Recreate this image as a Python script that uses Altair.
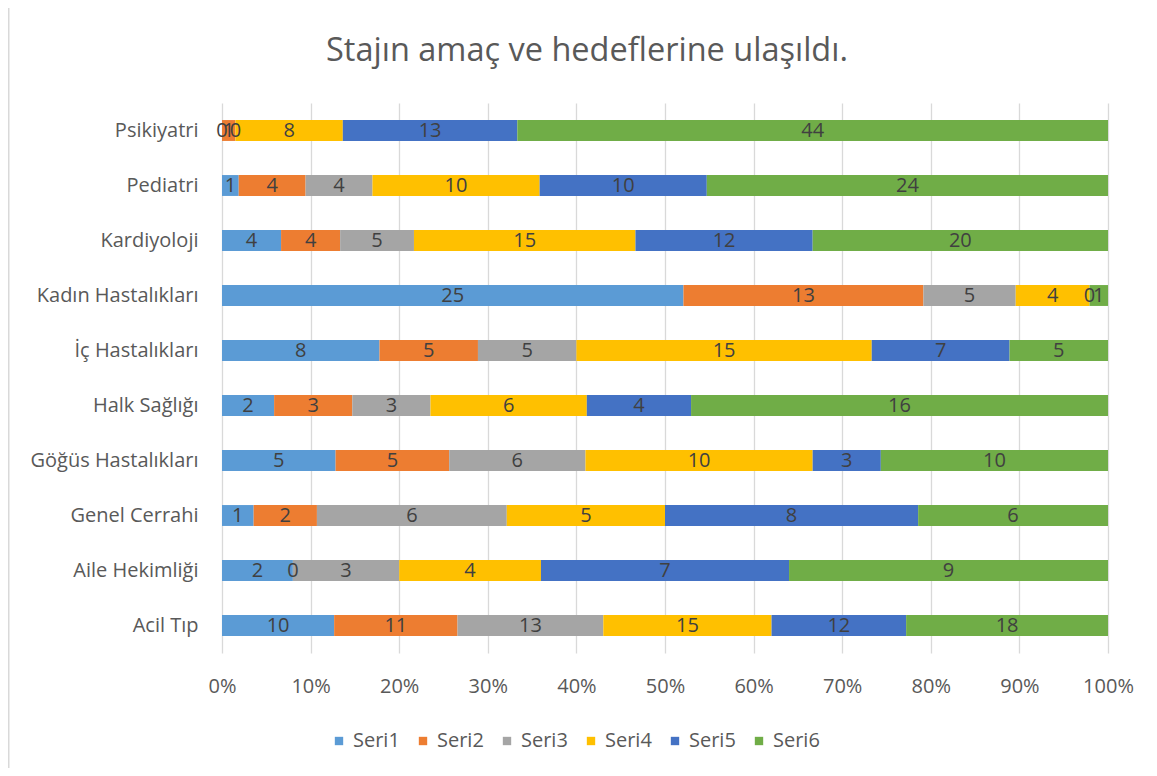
import altair as alt
import pandas as pd

categories = ["Psikiyatri", "Pediatri", "Kardiyoloji", "Kadın Hastalıkları", "İç Hastalıkları",
              "Halk Sağlığı", "Göğüs Hastalıkları", "Genel Cerrahi", "Aile Hekimliği", "Acil Tıp"]
series_names = ["Seri1", "Seri2", "Seri3", "Seri4", "Seri5", "Seri6"]
seri1 = [0, 1, 4, 25, 8, 2, 5, 1, 2, 10]
seri2 = [1, 4, 4, 13, 5, 3, 5, 2, 0, 11]
seri3 = [0, 4, 5, 5, 5, 3, 6, 6, 3, 13]
seri4 = [8, 10, 15, 4, 15, 6, 10, 5, 4, 15]
seri5 = [13, 10, 12, 0, 7, 4, 3, 8, 7, 12]
seri6 = [44, 24, 20, 1, 5, 16, 10, 6, 9, 18]
colors = ["#5B9BD5", "#ED7D31", "#A5A5A5", "#FFC000", "#4472C4", "#70AD47"]
title_text = "Stajın amaç ve hedeflerine ulaşıldı."

all_series = [seri1, seri2, seri3, seri4, seri5, seri6]
rows = []
for si, (name, vals) in enumerate(zip(series_names, all_series)):
    for cat, v in zip(categories, vals):
        rows.append({"cat": cat, "series": name, "order": si, "value": v})
df = pd.DataFrame(rows)

FONT = "Open Sans"

base = alt.Chart(df).transform_stack(
    stack="value",
    groupby=["cat"],
    as_=["v0", "v1"],
    offset="normalize",
    sort=[alt.SortField("order", order="ascending")],
).transform_calculate(mid="(datum.v0 + datum.v1) / 2")

yenc = alt.Y("cat:N", sort=categories, title=None,
             scale=alt.Scale(paddingInner=0.62, paddingOuter=0.31),
             axis=alt.Axis(labelFont=FONT, labelFontSize=20, labelColor="#595959",
                           labelPadding=24, ticks=False, domain=False, grid=False,
                           labelLimit=300))

bars = base.mark_bar().encode(
    x=alt.X("v0:Q", title=None,
            scale=alt.Scale(domain=[0, 1], nice=False),
            axis=alt.Axis(format="%", values=[i / 10 for i in range(11)],
                          labelFont=FONT, labelFontSize=20, labelColor="#595959",
                          labelPadding=23, ticks=False, domain=False, labelFlush=False,
                          grid=True, gridColor="#D9D9D9", gridWidth=1.3)),
    x2="v1:Q",
    y=yenc,
    color=alt.Color("series:N",
                    scale=alt.Scale(domain=series_names, range=colors),
                    legend=alt.Legend(title=None, orient="none", direction="horizontal",
                                      legendX=107, legendY=628,
                                      symbolType="square", symbolSize=70,
                                      symbolStrokeWidth=0,
                                      labelFont=FONT, labelFontSize=20,
                                      labelColor="#595959", columnPadding=13,
                                      labelOffset=4)),
    order=alt.Order("order:Q"),
)

labels = base.mark_text(font=FONT, fontSize=20, color="#404040", baseline="middle").encode(
    x=alt.X("mid:Q"),
    y=alt.Y("cat:N", sort=categories),
    text=alt.Text("value:Q"),
)

title_mark = alt.Chart(pd.DataFrame({"t": [title_text]})).mark_text(
    font=FONT, fontSize=32.5, color="#595959", align="center", baseline="middle"
).encode(x=alt.value(365), y=alt.value(-52), text="t:N")

frame_top = alt.Chart(pd.DataFrame({"k": [0]})).mark_rule(color="#D9D9D9", strokeWidth=3).encode(
    x=alt.value(-214), x2=alt.value(927), y=alt.value(-97)
)
frame_left = alt.Chart(pd.DataFrame({"k": [0]})).mark_rule(color="#D9D9D9", strokeWidth=3).encode(
    x=alt.value(-214), y=alt.value(-97), y2=alt.value(665)
)

chart = alt.layer(bars, labels, title_mark, frame_top, frame_left).properties(
    width=886,
    height=550,
    autosize=alt.AutoSizeParams(type="none"),
    padding={"left": 214, "top": 95, "right": 41, "bottom": 115},
    background="white",
).configure_view(stroke=None)

chart.save("out.html", embed_options={"renderer": "svg", "actions": False})
